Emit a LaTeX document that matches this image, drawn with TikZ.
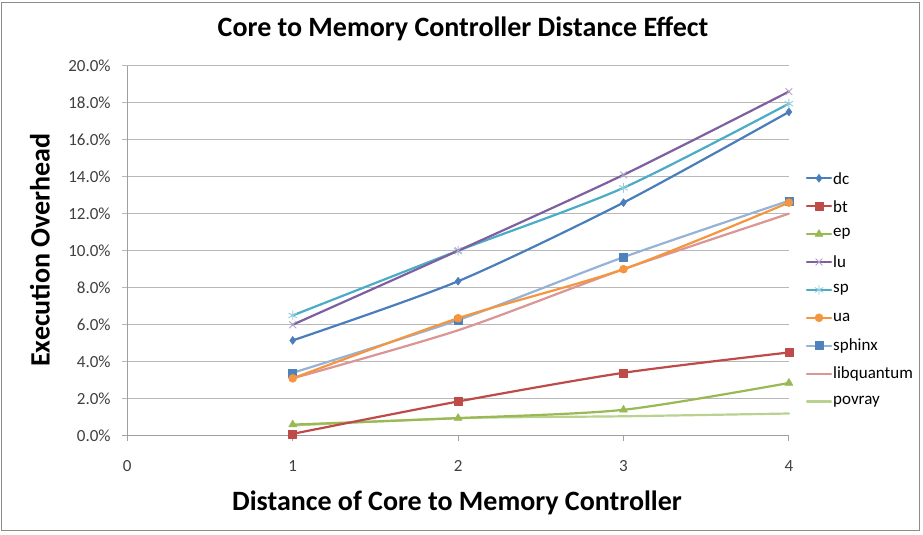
\documentclass[tikz,border=0pt]{standalone}
\usepackage{fontspec}
\setmainfont{Carlito}
\usetikzlibrary{plotmarks}

\definecolor{dcc}{HTML}{4A7EBB}
\definecolor{btc}{HTML}{BE4B48}
\definecolor{epc}{HTML}{98B954}
\definecolor{luc}{HTML}{7D60A0}
\definecolor{lum}{HTML}{B3A2C7}
\definecolor{spc}{HTML}{4BACC6}
\definecolor{spm}{HTML}{93CDDD}
\definecolor{uac}{HTML}{F59540}
\definecolor{sxc}{HTML}{95B3D7}
\definecolor{sxm}{HTML}{4F81BD}
\definecolor{lqc}{HTML}{D99694}
\definecolor{pvc}{HTML}{B9D28F}
\definecolor{gridc}{HTML}{B8B8B8}
\definecolor{axisc}{HTML}{A0A0A0}
\definecolor{labc}{HTML}{404040}
\definecolor{framec}{HTML}{8C8C8C}

\tikzset{
  series/.style={line width=2.2pt, line join=round, line cap=round},
  dcline/.style={series, draw=dcc, mark=diamond*, mark size=4pt,
    mark options={solid, fill=dcc, draw=dcc, line width=0.5pt}},
  btline/.style={series, draw=btc, mark=square*, mark size=4pt,
    mark options={solid, fill=btc, draw=btc, line width=0.5pt}},
  epline/.style={series, draw=epc, mark=triangle*, mark size=4.6pt,
    mark options={solid, fill=epc, draw=epc, line width=0.5pt}},
  luline/.style={series, draw=luc, mark=x, mark size=4.6pt,
    mark options={solid, draw=lum, line width=0.9pt}},
  spline/.style={series, draw=spc, mark=asterisk, mark size=4.6pt,
    mark options={solid, draw=spm, line width=0.9pt}},
  ualine/.style={series, draw=uac, mark=*, mark size=4pt,
    mark options={solid, fill=uac, draw=uac, line width=0.5pt}},
  sxline/.style={series, draw=sxc, mark=square*, mark size=4pt,
    mark options={solid, fill=sxm, draw=sxm, line width=0.5pt}},
  lqline/.style={series, draw=lqc},
  pvline/.style={series, draw=pvc},
  gridline/.style={draw=gridc, line width=1pt},
  axisline/.style={draw=axisc, line width=1pt},
  ticklab/.style={text=labc, font=\fontsize{17}{17}\selectfont, inner sep=0pt},
  leglab/.style={text=black, font=\fontsize{17}{17}\selectfont, inner sep=0pt, anchor=west},
  axtitle/.style={font=\bfseries\fontsize{28}{28}\selectfont, inner sep=0pt},
}

\begin{document}
\begin{tikzpicture}[x=1pt,y=-1pt]
\useasboundingbox (0,0) rectangle (923,535);
\fill[white] (0,0) rectangle (923,535);
\draw[framec, line width=1pt] (1.5,2.5) rectangle (919.5,530.5);

% titles
\node[axtitle] (title) at (463,29) {Core to Memory Controller Distance Effect};
\node[axtitle, rotate=90] (ytitle) at (40,250) {Execution Overhead};
\node[axtitle] (xtitle) at (457,503) {Distance of Core to Memory Controller};

% plot area: x in distance units, y in percent
\begin{scope}[shift={(127.3,435.7)}, x=165.4pt, y=18.5pt]
  \foreach \p in {2,4,...,20}
    \draw[gridline] (-0.03,\p) -- (4,\p);
  \foreach \p in {0,2,...,20}
    \node[ticklab, anchor=east] (ylab\p) at (-0.1,\p) {\p.0\%};
  \draw[axisline] (-0.03,0) -- (4,0);
  \draw[axisline] (0,0) -- (0,20);
  \foreach \v in {0,...,4} {
    \draw[axisline] (\v,0) -- (\v,-0.28);
    \node[ticklab] (xlab\v) at (\v,-1.62) {\v};
  }

  % data series
  \draw[pvline] plot[smooth, tension=0.45] coordinates {(1,0.55) (2,0.95) (3,1.05) (4,1.2)};
  \draw[lqline] plot[smooth, tension=0.45] coordinates {(1,3.1) (2,5.7) (3,9.0) (4,12.0)};
  \draw[epline] plot[smooth, tension=0.45] coordinates {(1,0.6) (2,0.95) (3,1.4) (4,2.85)};
  \draw[btline] plot[smooth, tension=0.45] coordinates {(1,0.1) (2,1.85) (3,3.4) (4,4.5)};
  \draw[sxline] plot[smooth, tension=0.45] coordinates {(1,3.4) (2,6.25) (3,9.65) (4,12.7)};
  \draw[ualine] plot[smooth, tension=0.45] coordinates {(1,3.1) (2,6.35) (3,9.0) (4,12.6)};
  \draw[dcline] plot[smooth, tension=0.45] coordinates {(1,5.15) (2,8.35) (3,12.6) (4,17.5)};
  \draw[spline] plot[smooth, tension=0.45] coordinates {(1,6.5) (2,10.0) (3,13.4) (4,17.95)};
  \draw[luline] plot[smooth, tension=0.45] coordinates {(1,6.0) (2,10.0) (3,14.1) (4,18.6)};
\end{scope}

% legend
\draw[dcline] plot[mark indices={2}] coordinates {(807,178.3) (819,178.3) (831,178.3)};
\node[leglab] (ldc) at (833,178.3) {dc};
\draw[btline] plot[mark indices={2}] coordinates {(807,206.2) (819,206.2) (831,206.2)};
\node[leglab] (lbt) at (833,206.2) {bt};
\draw[epline] plot[mark indices={2}] coordinates {(807,234.1) (819,234.1) (831,234.1)};
\node[leglab] (lep) at (833,234.1) {ep};
\draw[luline] plot[mark indices={2}] coordinates {(807,262) (819,262) (831,262)};
\node[leglab] (llu) at (833,262) {lu};
\draw[spline] plot[mark indices={2}] coordinates {(807,289.9) (819,289.9) (831,289.9)};
\node[leglab] (lsp) at (833,289.9) {sp};
\draw[ualine] plot[mark indices={2}] coordinates {(807,317.8) (819,317.8) (831,317.8)};
\node[leglab] (lua) at (833,317.8) {ua};
\draw[sxline] plot[mark indices={2}] coordinates {(807,345.7) (819,345.7) (831,345.7)};
\node[leglab] (lsx) at (833,345.7) {sphinx};
\draw[lqline] (807,373.6) -- (831,373.6);
\node[leglab] (llq) at (833,373.6) {libquantum};
\draw[pvline] (807,401.5) -- (831,401.5);
\node[leglab] (lpv) at (833,401.5) {povray};
\end{tikzpicture}
\end{document}
